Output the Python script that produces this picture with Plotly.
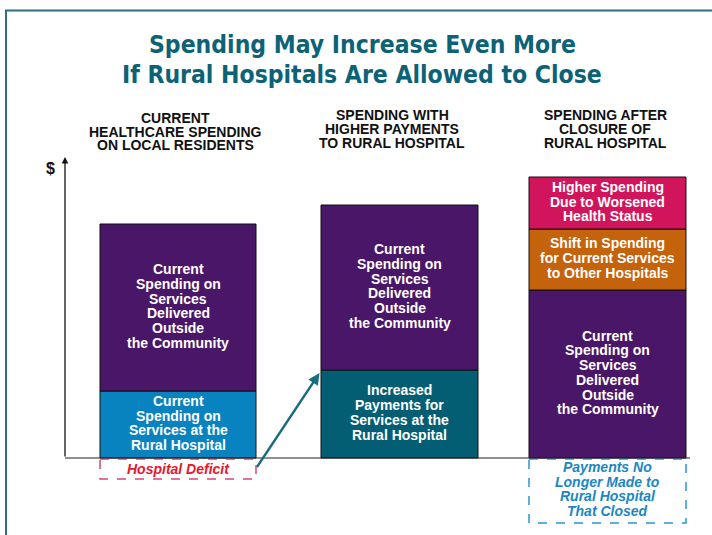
import plotly.graph_objects as go

# ---- data -------------------------------------------------------------
headers = [
    ["CURRENT", "HEALTHCARE SPENDING", "ON LOCAL RESIDENTS"],
    ["SPENDING WITH", "HIGHER PAYMENTS", "TO RURAL HOSPITAL"],
    ["SPENDING AFTER", "CLOSURE OF", "RURAL HOSPITAL"],
]
hospital_payments = [67, 88, 0]      # spending at the rural hospital
outside_spending = [167, 165, 168]   # spending outside the community
shift_spending = [0, 0, 61]          # shift to other hospitals
worse_health = [0, 0, 52]            # higher spending from worse health
payments_lost = 65                   # payments no longer made after closure

hospital_labels = [
    ["Current", "Spending on", "Services at the", "Rural Hospital"],
    ["Increased", "Payments for", "Services at the", "Rural Hospital"],
    None,
]
outside_label = ["Current", "Spending on", "Services", "Delivered", "Outside", "the Community"]
shift_label = ["Shift in Spending", "for Current Services", "to Other Hospitals"]
health_label = ["Higher Spending", "Due to Worsened", "Health Status"]
deficit_label = "Hospital Deficit"
lost_label = ["Payments No", "Longer Made to", "Rural Hospital", "That Closed"]
title_lines = ["Spending May Increase Even More", "If Rural Hospitals Are Allowed to Close"]

# ---- layout constants -------------------------------------------------
W, H = 712, 535
BASE = 458                      # pixel row of the zero line
centers = [178, 399.5, 607.5]
widths = [156, 157, 157]

PURPLE = "#4a1668"
BLUE = "#0983bf"
TEAL = "#045e73"
PINK = "#d2145c"
ORANGE = "#c5620c"
TITLE_C = "#0c6276"
BODY_FONT = "Liberation Sans, Arial, sans-serif"
TITLE_FONT = "DejaVu Sans Condensed, Liberation Sans, sans-serif"


def yv(py):
    """Pixel row -> value on the y axis."""
    return BASE - py


fig = go.Figure()

hosp_colors = [BLUE, TEAL, BLUE]
outline = dict(color="#111111", width=1)

# stacked segments, drawn with explicit bases
bases = [0, 0, 0]
segments = [
    (hospital_payments, hosp_colors),
    (outside_spending, [PURPLE] * 3),
    (shift_spending, [ORANGE] * 3),
    (worse_health, [PINK] * 3),
]
seg_bounds = []
for vals, cols in segments:
    idx = [i for i, v in enumerate(vals) if v > 0]
    fig.add_trace(go.Bar(
        x=[centers[i] for i in idx],
        y=[vals[i] for i in idx],
        base=[bases[i] for i in idx],
        width=[widths[i] for i in idx],
        marker=dict(color=[cols[i] for i in idx], line=outline),
        hoverinfo="skip",
        showlegend=False,
    ))
    seg_bounds.append([(bases[i], bases[i] + vals[i]) for i in range(3)])
    bases = [bases[i] + vals[i] for i in range(3)]

annotations = []


def add_lines(lines, x, y_center, size, color, family, line_h, bold=True, italic=False):
    """One annotation per line so the line spacing can be set freely."""
    n = len(lines)
    for k, t in enumerate(lines):
        txt = t
        if italic:
            txt = "<i>" + txt + "</i>"
        if bold:
            txt = "<b>" + txt + "</b>"
        annotations.append(dict(
            x=x, y=y_center + ((n - 1) / 2 - k) * line_h,
            xref="x", yref="y", text=txt, showarrow=False,
            xanchor="center", yanchor="middle", borderpad=0,
            font=dict(size=size, color=color, family=family),
        ))


# text inside each segment
for i in range(3):
    lo, hi = seg_bounds[0][i]
    if hospital_labels[i] and hi > lo:
        add_lines(hospital_labels[i], centers[i], (lo + hi) / 2 + 1.5, 14, "white", BODY_FONT, 14.7)
    lo, hi = seg_bounds[1][i]
    add_lines(outside_label, centers[i], (lo + hi) / 2 + 1.5, 14, "white", BODY_FONT, 14.7)
lo, hi = seg_bounds[2][2]
add_lines(shift_label, centers[2], (lo + hi) / 2 + 1.5, 14, "white", BODY_FONT, 14.7)
lo, hi = seg_bounds[3][2]
add_lines(health_label, centers[2], (lo + hi) / 2 + 1.5, 14, "white", BODY_FONT, 14.7)

# hospital deficit: gap between the higher and the current payments
deficit = hospital_payments[1] - hospital_payments[0]
shapes = []
shapes.append(dict(
    type="rect", xref="x", yref="y",
    x0=centers[0] - widths[0] / 2, x1=centers[0] + widths[0] / 2,
    y0=-1, y1=-deficit,
    line=dict(color="#d8467a", width=1.5, dash="dash"), fillcolor="rgba(0,0,0,0)",
))
add_lines([deficit_label], centers[0], -deficit / 2 - 0.5, 14, "#e8162c", BODY_FONT, 14.7, italic=True)

# payments lost after closure
shapes.append(dict(
    type="rect", xref="x", yref="y",
    x0=centers[2] - widths[2] / 2, x1=centers[2] + widths[2] / 2,
    y0=-1, y1=-payments_lost,
    line=dict(color="#2a95cf", width=1.5, dash="dash"), fillcolor="rgba(0,0,0,0)",
))
add_lines(lost_label, centers[2], -payments_lost / 2 + 1.5, 14, "#1a87c3", BODY_FONT, 14.7, italic=True)

# baseline
shapes.append(dict(type="line", xref="x", yref="y", x0=65, x1=690, y0=0, y1=0,
                   line=dict(color="#222222", width=1.2)))

# vertical $ axis with arrow
annotations.append(dict(
    x=65, y=yv(157), ax=65, ay=0, xref="x", yref="y", axref="x", ayref="y",
    showarrow=True, arrowhead=2, arrowsize=1, arrowwidth=1.3, arrowcolor="#111111", text="",
))
annotations.append(dict(x=50, y=yv(168), xref="x", yref="y", text="<b>$</b>", showarrow=False,
                        font=dict(size=16, color="#111111", family=BODY_FONT)))

# arrow from the deficit to the increased payments
annotations.append(dict(
    x=centers[1] - widths[1] / 2 - 1.5, y=hospital_payments[1] - 3,
    ax=centers[0] + widths[0] / 2, ay=-deficit / 2,
    xref="x", yref="y", axref="x", ayref="y",
    showarrow=True, arrowhead=2, arrowsize=1, arrowwidth=2.3, arrowcolor="#176c7d", text="",
))

# column headers
add_lines(headers[0], 175, yv(131.5), 14, "#111111", BODY_FONT, 13.8)
add_lines(headers[1], 392, yv(129), 14, "#111111", BODY_FONT, 13.8)
add_lines(headers[2], 605, yv(129), 14, "#111111", BODY_FONT, 13.8)

# title
add_lines(title_lines, 362, yv(59), 24.5, TITLE_C, TITLE_FONT, 30)

# outer frame
shapes.append(dict(type="line", xref="paper", yref="paper", x0=5 / W, x1=1, y0=1 - 10.5 / H, y1=1 - 10.5 / H,
                   line=dict(color="#2d6f80", width=2)))
shapes.append(dict(type="line", xref="paper", yref="paper", x0=6 / W, x1=6 / W, y0=0, y1=1 - 10.5 / H,
                   line=dict(color="#2d6f80", width=2)))

fig.update_layout(
    width=W, height=H,
    margin=dict(l=0, r=0, t=0, b=0),
    paper_bgcolor="white", plot_bgcolor="white",
    barmode="overlay",
    xaxis=dict(range=[0, W], visible=False, fixedrange=True),
    yaxis=dict(range=[BASE - H, BASE], visible=False, fixedrange=True),
    shapes=shapes,
    annotations=annotations,
    showlegend=False,
)

fig.write_html("out.html")
